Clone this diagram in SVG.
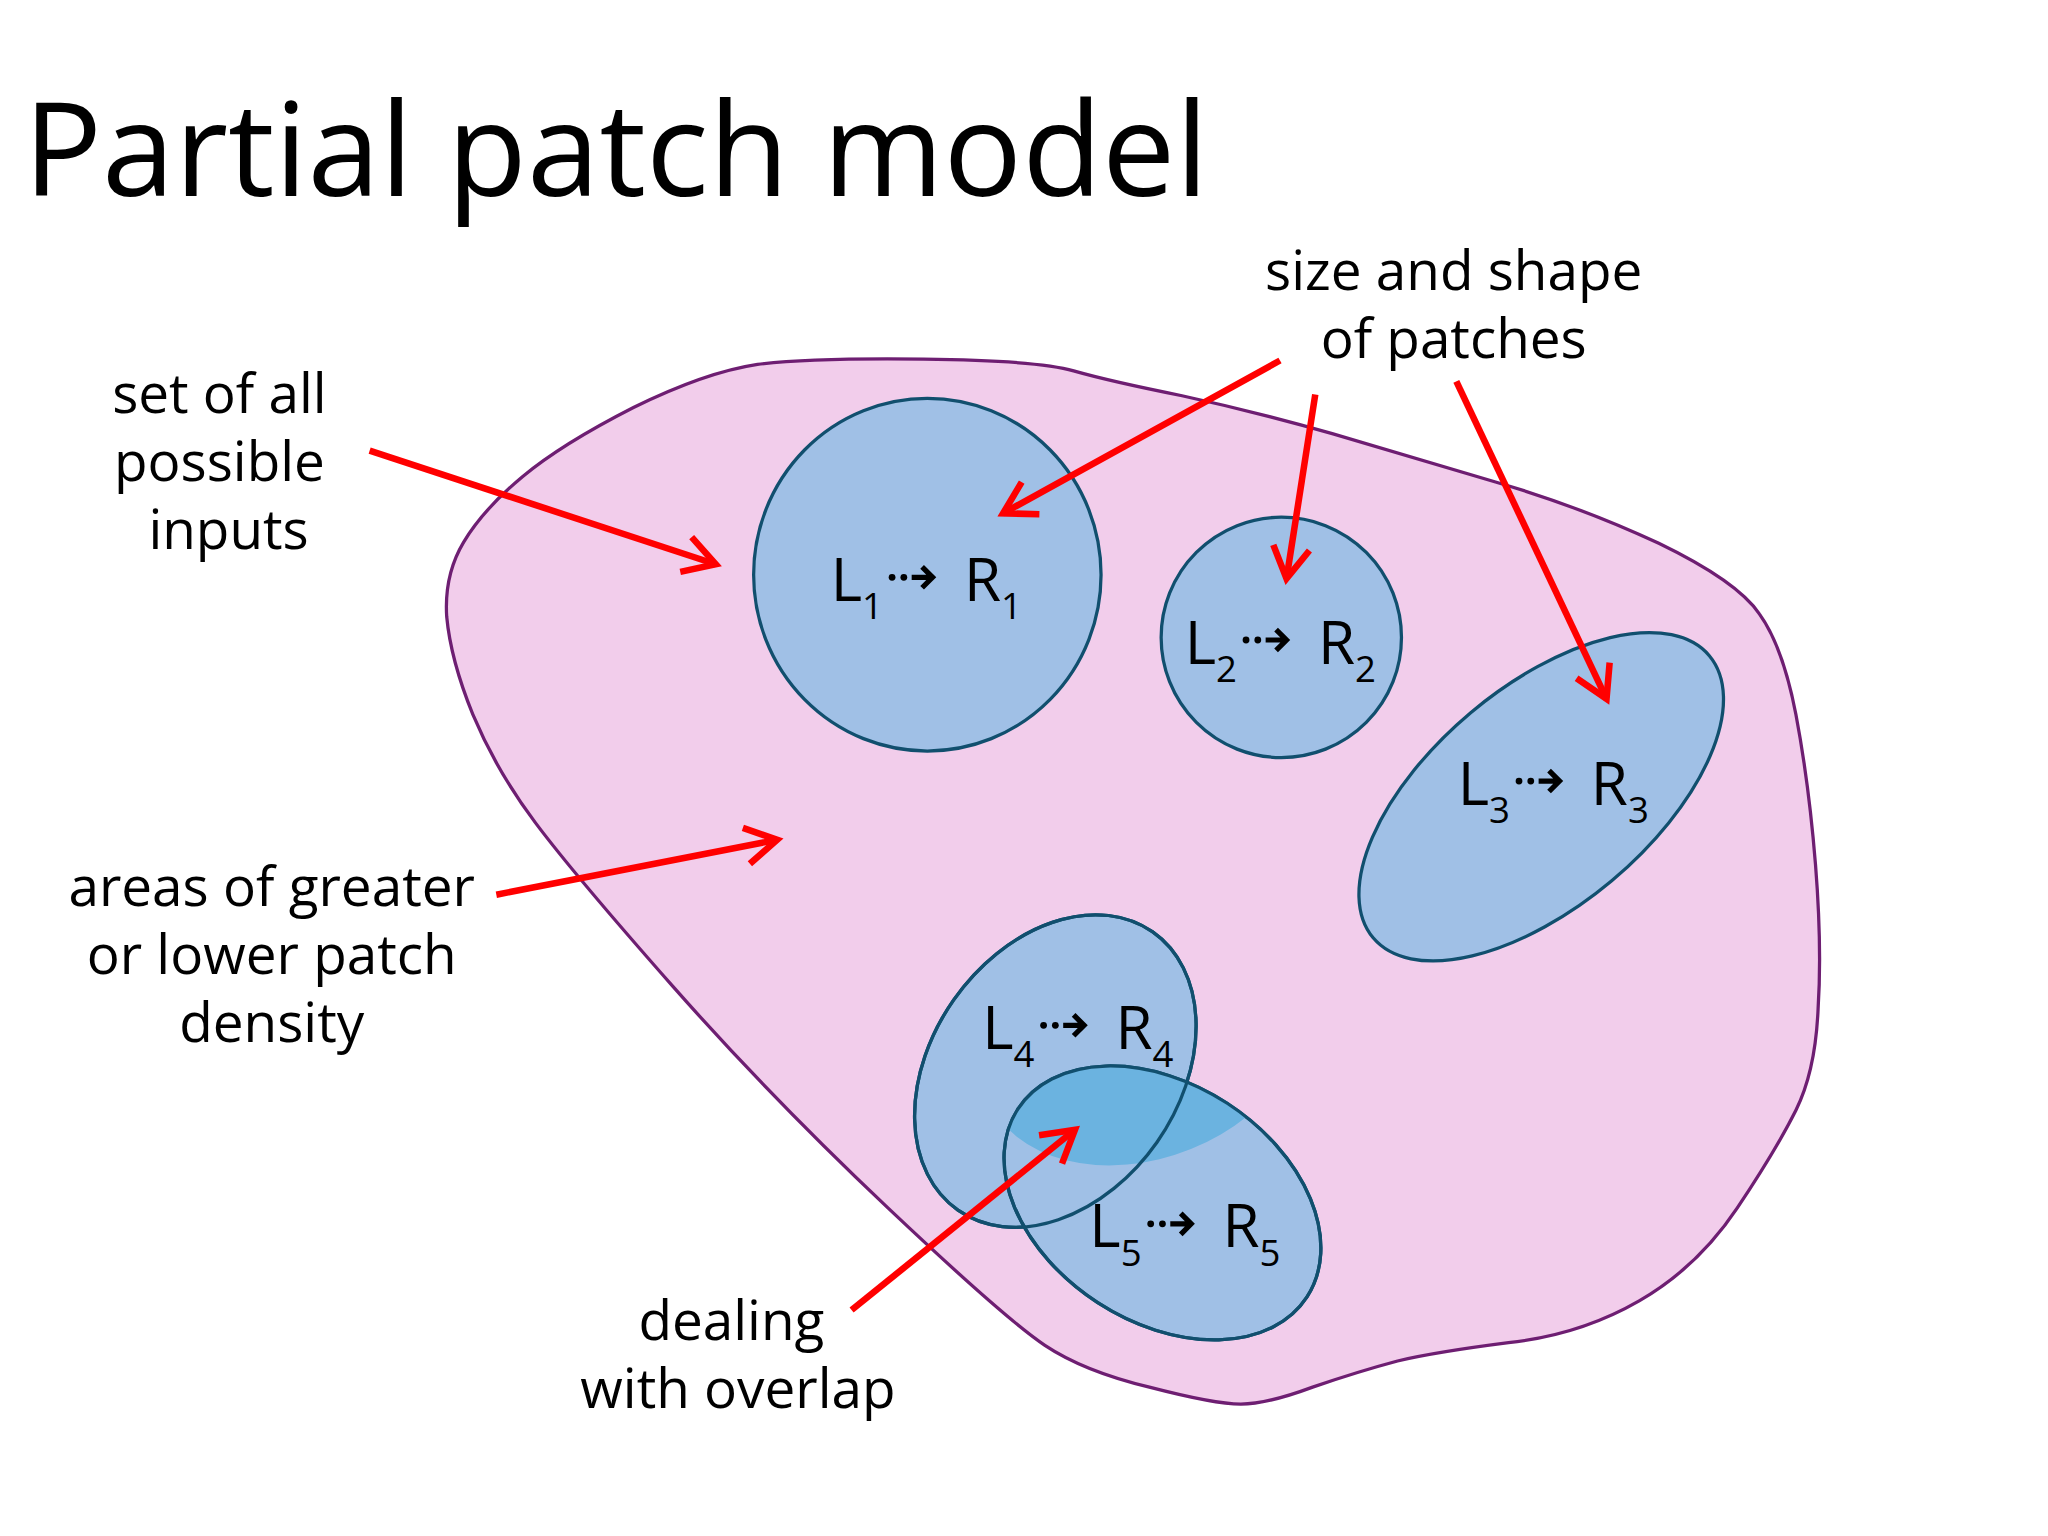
<svg xmlns="http://www.w3.org/2000/svg" width="2048" height="1536" viewBox="0 0 2048 1536">
<defs>
<style>
.t{font-family:"Open Sans","Noto Sans",sans-serif;fill:#000}
.lab{font-size:42px;text-anchor:middle}
.pl{font-size:46px}
.sub{font-size:28px}
.patch{fill:#a0c0e6;stroke:#114f6e;stroke-width:2.5}
.arr{stroke:#f00;stroke-width:5;fill:none;marker-end:url(#ah)}
</style>
<marker id="ah" markerUnits="userSpaceOnUse" markerWidth="40" markerHeight="40" refX="28" refY="20" orient="auto" viewBox="0 0 40 40">
<path d="M4,6 L28,20 L4,34" fill="none" stroke="#f00" stroke-width="5"/>
</marker>
<g id="da"><circle cx="0" cy="0" r="2.6"/><circle cx="9" cy="0" r="2.6"/><path d="M15,0 H30 M23,-8 L31,0 L23,8" stroke="#000" stroke-width="4" fill="none"/></g>
<ellipse id="e4" cx="808" cy="820" rx="130" ry="95" transform="rotate(-55 808 820)"/>
<clipPath id="c4"><use href="#e4"/></clipPath>
</defs>
<rect width="2048" height="1536" fill="#fff"/>
<g transform="scale(1.30612)">
<text class="t" x="18" y="150" font-size="100">Partial patch model</text>
<g id="blob"><path d="M707,275 Q795,276 822,284 Q850,292 905,303 Q960,315 1020,332 Q1080,350 1145,369 Q1210,388 1270,416 Q1330,445 1347,470 Q1365,495 1375,547 Q1385,600 1390,662 Q1395,725 1392,772 Q1390,820 1375,850 Q1360,880 1330,925 Q1300,970 1255,996 Q1210,1022 1155,1028 Q1100,1035 1070,1042 Q1040,1050 1005,1062 Q970,1075 950,1075 Q930,1075 880,1062 Q830,1050 800,1030 Q770,1010 680,925 Q590,840 515,755 Q440,670 410,630 Q380,590 362,547 Q345,505 342,472 Q340,440 355,415 Q370,390 400,365 Q430,340 485,312 Q540,285 580,279 Q620,274 707,275 Z" fill="#f2cdeb" stroke="#6e1e72" stroke-width="2.5"/></g>
<g id="p1"><ellipse class="patch" cx="710" cy="440" rx="133" ry="135"/>
<text class="t pl" x="636" y="460">L<tspan class="sub" dy="14">1</tspan></text><use href="#da" x="683" y="442"/><text class="t pl" x="738" y="460">R<tspan class="sub" dy="14">1</tspan></text></g>
<g id="p2"><circle class="patch" cx="981" cy="488" r="92"/>
<text class="t pl" x="907" y="508">L<tspan class="sub" dy="14">2</tspan></text><use href="#da" x="954" y="490"/><text class="t pl" x="1009" y="508">R<tspan class="sub" dy="14">2</tspan></text></g>
<g id="p3"><ellipse class="patch" cx="1180" cy="610" rx="168" ry="84" transform="rotate(-40 1180 610)"/>
<text class="t pl" x="1116" y="616">L<tspan class="sub" dy="14">3</tspan></text><use href="#da" x="1163" y="598"/><text class="t pl" x="1218" y="616">R<tspan class="sub" dy="14">3</tspan></text></g>
<g id="p4"><use href="#e4" class="patch"/></g>
<g id="p5"><ellipse class="patch" cx="890" cy="921" rx="132" ry="91" transform="rotate(33 890 921)"/>
<ellipse cx="890" cy="921" rx="132" ry="91" transform="rotate(33 890 921)" fill="#6bb3e0" clip-path="url(#c4)"/>
<use href="#e4" fill="none" stroke="#114f6e" stroke-width="2.5"/>
<ellipse cx="890" cy="921" rx="132" ry="91" transform="rotate(33 890 921)" fill="none" stroke="#114f6e" stroke-width="2.5"/>
<text class="t pl" x="752" y="803">L<tspan class="sub" dy="14">4</tspan></text><use href="#da" x="799" y="785"/><text class="t pl" x="854" y="803">R<tspan class="sub" dy="14">4</tspan></text>
<text class="t pl" x="834" y="955">L<tspan class="sub" dy="14">5</tspan></text><use href="#da" x="881" y="937"/><text class="t pl" x="936" y="955">R<tspan class="sub" dy="14">5</tspan></text></g>
<g id="labels">
<text class="t lab" x="168" y="316">set of all</text>
<text class="t lab" x="168" y="368">possible</text>
<text class="t lab" x="175" y="420">inputs</text>
<text class="t lab" x="1113" y="222">size and shape</text>
<text class="t lab" x="1113" y="274">of patches</text>
<text class="t lab" x="208" y="694">areas of greater</text>
<text class="t lab" x="208" y="746">or lower patch</text>
<text class="t lab" x="208" y="798">density</text>
<text class="t lab" x="560" y="1026">dealing</text>
<text class="t lab" x="565" y="1078">with overlap</text>
</g>
<g id="connectors">
<path class="arr" d="M283,345 L548,432"/>
<path class="arr" d="M980,276 L768,393"/>
<path class="arr" d="M1007,302 L985,443"/>
<path class="arr" d="M1115,292 L1230,535"/>
<path class="arr" d="M380,685 L595,643"/>
<path class="arr" d="M652,1003 L823,865"/>
</g>
</g>
</svg>
